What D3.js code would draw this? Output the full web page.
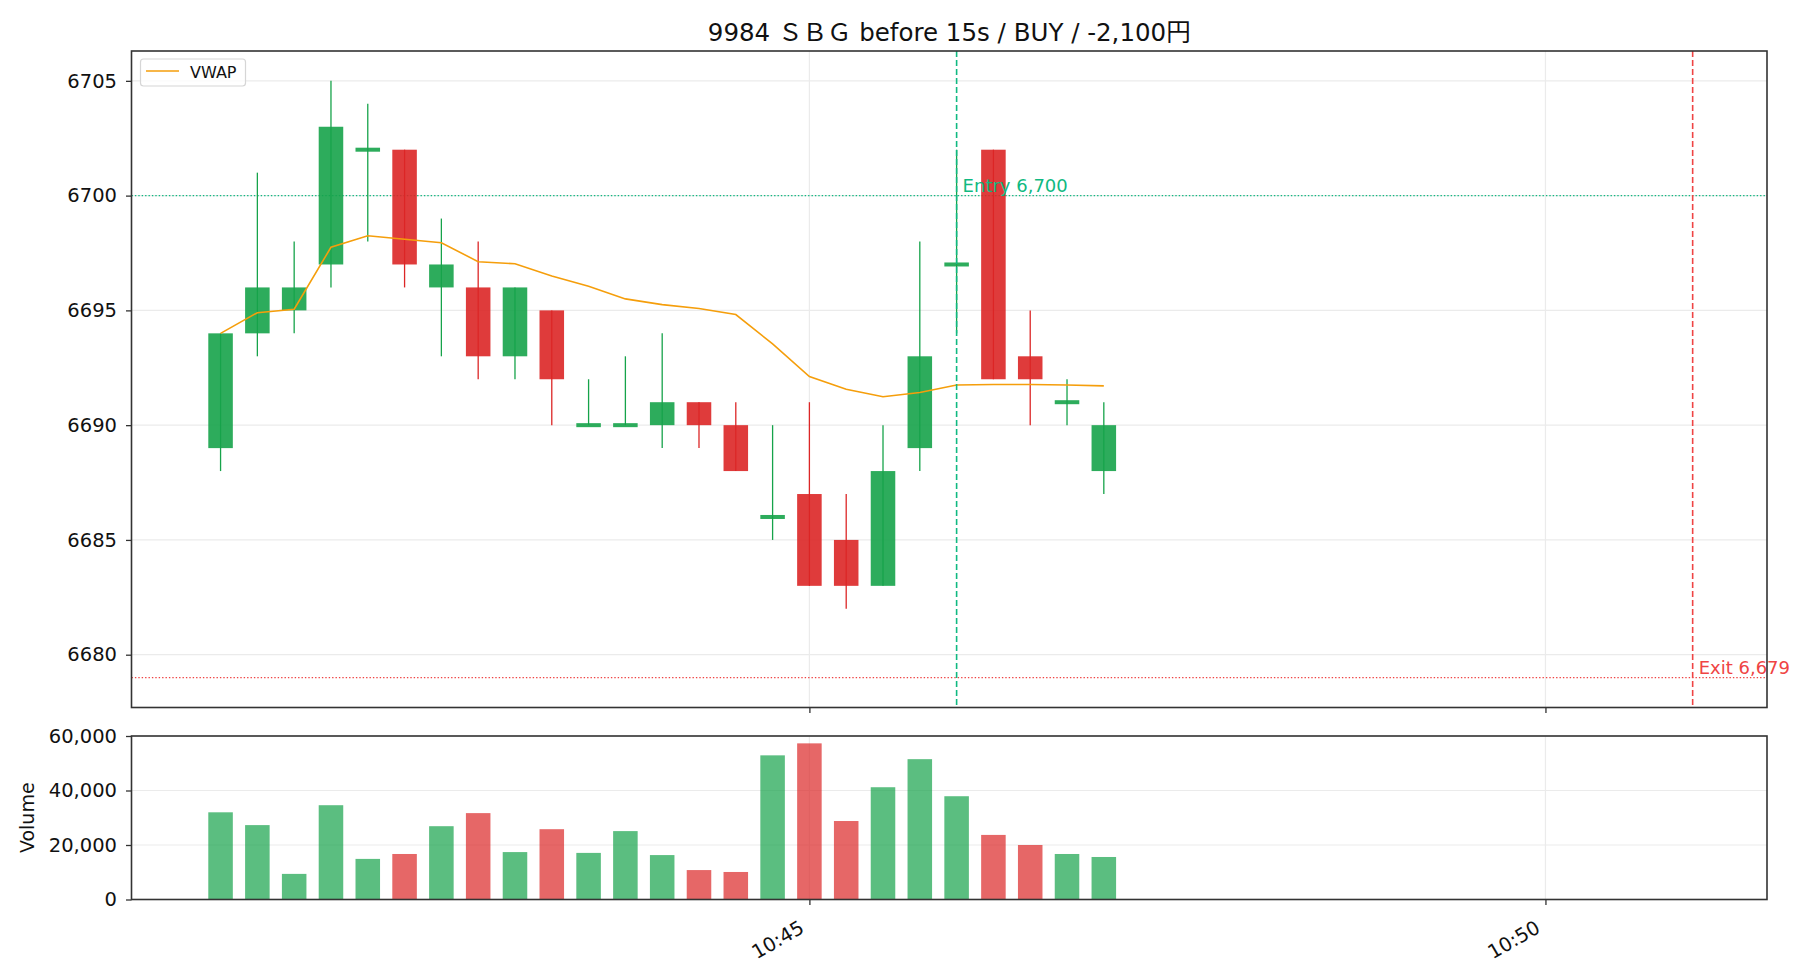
<!DOCTYPE html>
<html>
<head>
<meta charset="utf-8">
<script src="https://cdn.jsdelivr.net/npm/d3@7"></script>
<style>
    html, body { margin: 0; padding: 0; background: #fff; }
    svg { display: block; font-family: "DejaVu Sans", "Noto Sans CJK JP", sans-serif; }
</style>
</head>
<body>
<div id="chart"></div>
<script>
// 15s bars
const times = ["10:41:00", "10:41:15", "10:41:30", "10:41:45", "10:42:00", "10:42:15", "10:42:30", "10:42:45",
               "10:43:00", "10:43:15", "10:43:30", "10:43:45", "10:44:00", "10:44:15", "10:44:30", "10:44:45",
               "10:45:00", "10:45:15", "10:45:30", "10:45:45", "10:46:00", "10:46:15", "10:46:30", "10:46:45",
               "10:47:00"];
const opens  = [6689, 6694, 6695, 6697, 6702, 6702, 6696, 6696, 6693, 6695, 6690, 6690, 6690, 6691, 6690, 6686,
                6687, 6685, 6683, 6689, 6697, 6702, 6693, 6691, 6688];
const highs  = [6694, 6701, 6698, 6705, 6704, 6702, 6699, 6698, 6696, 6695, 6692, 6693, 6694, 6691, 6691, 6690,
                6691, 6687, 6690, 6698, 6702, 6702, 6695, 6692, 6691];
const lows   = [6688, 6693, 6694, 6696, 6698, 6696, 6693, 6692, 6692, 6690, 6690, 6690, 6689, 6689, 6688, 6685,
                6683, 6682, 6683, 6688, 6694, 6692, 6690, 6690, 6687];
const closes = [6694, 6696, 6696, 6703, 6702, 6697, 6697, 6693, 6696, 6692, 6690, 6690, 6691, 6690, 6688, 6686,
                6683, 6683, 6688, 6693, 6697, 6692, 6692, 6691, 6690];
const volumes = [32000, 27300, 9400, 34600, 14900, 16700, 26900, 31700, 17400, 25800, 17100, 25100, 16300, 10800,
                 10100, 52900, 57300, 28800, 41200, 51500, 37900, 23700, 20000, 16700, 15600];
const vwap = [6694.0, 6694.9, 6695.05, 6697.75, 6698.25, 6698.1, 6697.95, 6697.12, 6697.03, 6696.5, 6696.05,
              6695.5, 6695.25, 6695.08, 6694.82, 6693.54, 6692.12, 6691.56, 6691.24, 6691.42, 6691.75, 6691.77,
              6691.77, 6691.75, 6691.71];

const titleText = "9984 ＳＢＧ before 15s / BUY / -2,100円";
const entryTime = "10:46:00", entryPrice = 6700;
const exitTime = "10:51:00", exitPrice = 6679;
const priceTicks = [6680, 6685, 6690, 6695, 6700, 6705];
const volumeTicks = [0, 20000, 40000, 60000];
const timeTicks = ["10:45:00", "10:50:00"];
const timeTickLabels = ["10:45", "10:50"];

const green = "#16a34a", red = "#dc2626";
const entryColor = "#10b981", exitColor = "#ef4444";
const barSeconds = 15 * 0.72;

const W = 1820, H = 980;
const left = 131.5, right = 1767;
const price_panel = { top: 51, bottom: 707.5 };
const vol_panel = { top: 736, bottom: 899.5 };

const parseTime = d3.timeParse("%H:%M:%S");
const t = times.map(parseTime);

const bars = times.map((s, i) => ({
    t: t[i], o: opens[i], h: highs[i], l: lows[i], c: closes[i], v: volumes[i], vw: vwap[i]
}));

// x domain like matplotlib: data extent + 5% margin
const x0 = d3.timeSecond.offset(t[0], -barSeconds / 2), x1 = parseTime(exitTime);
const pad = (x1 - x0) * 0.05;
const x = d3.scaleTime()
    .domain([new Date(+x0 - pad), new Date(+x1 + pad)])
    .range([left, right]);

const yPad = (d3.max(highs) - exitPrice) * 0.05;
const y = d3.scaleLinear()
    .domain([exitPrice - yPad, d3.max(highs) + yPad])
    .range([price_panel.bottom, price_panel.top]);

const yv = d3.scaleLinear()
    .domain([0, 60000])
    .range([vol_panel.bottom, vol_panel.top]);

const svg = d3.select("#chart").append("svg")
    .attr("width", W)
    .attr("height", H);

svg.append("rect").attr("width", W).attr("height", H).attr("fill", "#fff");

const bw = x(d3.timeSecond.offset(t[0], barSeconds)) - x(t[0]);

// ---------- price panel ----------
const gp = svg.append("g");

// grid
gp.selectAll("line.hgrid").data(priceTicks).enter().append("line")
    .attr("x1", left).attr("x2", right)
    .attr("y1", d => y(d)).attr("y2", d => y(d))
    .attr("stroke", "#ebebeb").attr("stroke-width", 1.2);
gp.selectAll("line.vgrid").data(timeTicks).enter().append("line")
    .attr("x1", d => x(parseTime(d))).attr("x2", d => x(parseTime(d)))
    .attr("y1", price_panel.top).attr("y2", price_panel.bottom)
    .attr("stroke", "#ebebeb").attr("stroke-width", 1.2);

// entry / exit horizontal levels
gp.append("line")
    .attr("x1", left).attr("x2", right)
    .attr("y1", y(entryPrice)).attr("y2", y(entryPrice))
    .attr("stroke", entryColor).attr("stroke-width", 1.3).attr("stroke-dasharray", "1.4,2");
gp.append("line")
    .attr("x1", left).attr("x2", right)
    .attr("y1", y(exitPrice)).attr("y2", y(exitPrice))
    .attr("stroke", exitColor).attr("stroke-width", 1.3).attr("stroke-dasharray", "1.4,2");

// wicks
gp.selectAll("line.wick").data(bars).enter().append("line")
    .attr("x1", d => x(d.t)).attr("x2", d => x(d.t))
    .attr("y1", d => y(d.h)).attr("y2", d => y(d.l))
    .attr("stroke", d => d.c >= d.o ? green : red)
    .attr("stroke-width", 1.3);

// bodies
gp.selectAll("rect.body").data(bars).enter().append("rect")
    .attr("x", d => x(d.t) - bw / 2)
    .attr("width", bw)
    .attr("y", d => d.o === d.c ? y(d.c) - 2 : y(Math.max(d.o, d.c)))
    .attr("height", d => d.o === d.c ? 4 : y(Math.min(d.o, d.c)) - y(Math.max(d.o, d.c)))
    .attr("fill", d => d.c >= d.o ? green : red)
    .attr("fill-opacity", 0.9);

// VWAP
gp.append("path")
    .datum(bars)
    .attr("fill", "none")
    .attr("stroke", "#f59e0b")
    .attr("stroke-width", 1.6)
    .attr("d", d3.line().x(d => x(d.t)).y(d => y(d.vw)));

// entry / exit vertical markers
const ex = x(parseTime(entryTime)), xx = x(parseTime(exitTime));
gp.append("line")
    .attr("x1", ex).attr("x2", ex).attr("y1", price_panel.top).attr("y2", price_panel.bottom)
    .attr("stroke", entryColor).attr("stroke-width", 1.6).attr("stroke-dasharray", "6,3");
gp.append("line")
    .attr("x1", xx).attr("x2", xx).attr("y1", price_panel.top).attr("y2", price_panel.bottom)
    .attr("stroke", exitColor).attr("stroke-width", 1.6).attr("stroke-dasharray", "6,3");

gp.append("text")
    .attr("x", ex + 6).attr("y", y(entryPrice) - 4)
    .attr("fill", entryColor).attr("font-size", 18)
    .text("Entry " + d3.format(",")(entryPrice));
gp.append("text")
    .attr("x", xx + 6).attr("y", y(exitPrice) - 4)
    .attr("fill", exitColor).attr("font-size", 18)
    .text("Exit " + d3.format(",")(exitPrice));

// legend
const lg = gp.append("g");
lg.append("rect")
    .attr("x", 140.5).attr("y", 59).attr("width", 105).attr("height", 27).attr("rx", 3)
    .attr("fill", "#fff").attr("fill-opacity", 0.8).attr("stroke", "#d6d6d6").attr("stroke-width", 1.2);
lg.append("line")
    .attr("x1", 146).attr("x2", 179).attr("y1", 71).attr("y2", 71)
    .attr("stroke", "#f59e0b").attr("stroke-width", 1.6);
lg.append("text")
    .attr("x", 190).attr("y", 77.5).attr("font-size", 16).attr("fill", "#111")
    .text("VWAP");

// axes
const yAxis = d3.axisLeft(y).tickValues(priceTicks).tickSize(5.5).tickPadding(9).tickFormat(d3.format("d"));
gp.append("g").attr("transform", `translate(${left},0)`).call(yAxis);
const xAxisTop = d3.axisBottom(x).tickValues(timeTicks.map(parseTime)).tickSize(5.5).tickFormat("");
gp.append("g").attr("transform", `translate(0,${price_panel.bottom})`).call(xAxisTop);

gp.append("rect")
    .attr("x", left).attr("y", price_panel.top)
    .attr("width", right - left).attr("height", price_panel.bottom - price_panel.top)
    .attr("fill", "none").attr("stroke", "#333").attr("stroke-width", 1.6);

// title
svg.append("text")
    .attr("x", (left + right) / 2).attr("y", 41)
    .attr("text-anchor", "middle").attr("font-size", 24.5).attr("fill", "#111")
    .text(titleText);

// ---------- volume panel ----------
const gv = svg.append("g");

gv.selectAll("line.hgrid").data(volumeTicks).enter().append("line")
    .attr("x1", left).attr("x2", right)
    .attr("y1", d => yv(d)).attr("y2", d => yv(d))
    .attr("stroke", "#ebebeb").attr("stroke-width", 1.2);
gv.selectAll("line.vgrid").data(timeTicks).enter().append("line")
    .attr("x1", d => x(parseTime(d))).attr("x2", d => x(parseTime(d)))
    .attr("y1", vol_panel.top).attr("y2", vol_panel.bottom)
    .attr("stroke", "#ebebeb").attr("stroke-width", 1.2);

gv.selectAll("rect.vol").data(bars).enter().append("rect")
    .attr("x", d => x(d.t) - bw / 2)
    .attr("width", bw)
    .attr("y", d => yv(d.v))
    .attr("height", d => yv(0) - yv(d.v))
    .attr("fill", d => d.c >= d.o ? green : red)
    .attr("fill-opacity", 0.7);

const yvAxis = d3.axisLeft(yv).tickValues(volumeTicks).tickSize(5.5).tickPadding(9).tickFormat(d3.format(","));
gv.append("g").attr("transform", `translate(${left},0)`).call(yvAxis);
const xAxis = d3.axisBottom(x).tickValues(timeTicks.map(parseTime)).tickSize(5.5).tickFormat("");
gv.append("g").attr("transform", `translate(0,${vol_panel.bottom})`).call(xAxis);

gv.append("rect")
    .attr("x", left).attr("y", vol_panel.top)
    .attr("width", right - left).attr("height", vol_panel.bottom - vol_panel.top)
    .attr("fill", "none").attr("stroke", "#333").attr("stroke-width", 1.6);

// rotated time labels
gv.selectAll("text.xlab").data(timeTicks).enter().append("text")
    .attr("class", "xlab")
    .attr("transform", d => `translate(${x(parseTime(d)) - 4},${vol_panel.bottom + 32}) rotate(-30)`)
    .attr("text-anchor", "end").attr("font-size", 19.5).attr("fill", "#111")
    .text((d, i) => timeTickLabels[i]);

svg.append("text")
    .attr("transform", `translate(34,${(vol_panel.top + vol_panel.bottom) / 2}) rotate(-90)`)
    .attr("text-anchor", "middle").attr("font-size", 19).attr("fill", "#111")
    .text("Volume");

// axis styling (d3 axis sets its own font, use the page font instead)
svg.selectAll(".domain").remove();
svg.selectAll(".tick").select(function() { return this.parentNode; })
    .attr("font-family", null).attr("font-size", null);
svg.selectAll(".tick line").attr("stroke", "#333").attr("stroke-width", 1.3);
svg.selectAll(".tick text").attr("font-size", 19.5).attr("fill", "#111");
</script>
</body>
</html>
